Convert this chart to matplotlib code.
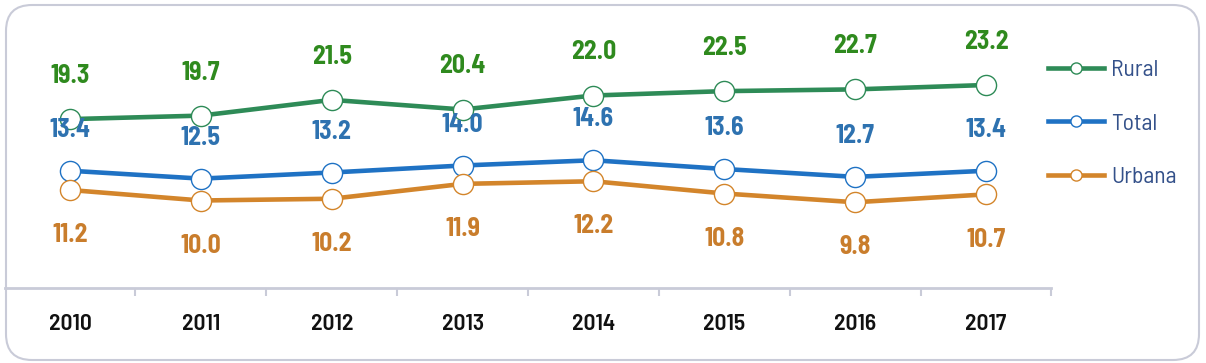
import matplotlib.pyplot as plt
from matplotlib.lines import Line2D
from matplotlib.patches import FancyBboxPatch
from matplotlib.transforms import IdentityTransform


years = ["2010", "2011", "2012", "2013", "2014", "2015", "2016", "2017"]
rural = [19.3, 19.7, 21.5, 20.4, 22.0, 22.5, 22.7, 23.2]
total = [13.4, 12.5, 13.2, 14.0, 14.6, 13.6, 12.7, 13.4]
urbana = [11.2, 10.0, 10.2, 11.9, 12.2, 10.8, 9.8, 10.7]

GREEN = "#2e8b57"
BLUE = "#1f72c4"
ORANGE = "#d3852b"
GREEN_TXT = "#2f8a1e"
BLUE_TXT = "#2e72b0"
ORANGE_TXT = "#c97d2c"
FRAME = "#c9cbd8"
FONT = ["Barlow Semi Condensed", "Barlow Condensed", "Carlito"]

W, H = 1206, 363
fig = plt.figure(figsize=(W / 100, H / 100), dpi=100)

# rounded outer frame (pixel coords)
frame = FancyBboxPatch((6, 3), W - 13, H - 8,
                       boxstyle="round,pad=0,rounding_size=26",
                       transform=IdentityTransform(), fill=False,
                       edgecolor=FRAME, linewidth=1.5)
fig.add_artist(frame)

ax = fig.add_axes([4.6 / W, 75 / H, 1046.8 / W, 262.5 / H])
ax.set_facecolor("none")
x = list(range(len(years)))

series = [
    ("Rural", rural, GREEN, GREEN_TXT, 31),
    ("Total", total, BLUE, BLUE_TXT, 29.5),
    ("Urbana", urbana, ORANGE, ORANGE_TXT, -32.5),
]

handles = []
for name, vals, col, tcol, off in series:
    ax.plot(x, vals, color=col, linewidth=3.3, marker="o", markersize=14.5,
            markerfacecolor="white", markeredgecolor=col, markeredgewidth=1)
    for xi, v in zip(x, vals):
        ax.annotate(f"{v:.1f}", (xi, v), xytext=(0, off),
                    textcoords="offset points", ha="center", va="center",
                    fontsize=18.5, fontweight="bold", color=tcol, family=FONT)
    handles.append(Line2D([], [], color=col, linewidth=3.3, marker="o",
                          markersize=8, markerfacecolor="white",
                          markeredgecolor=col, markeredgewidth=1, label=name))

ax.set_xlim(-0.5, len(years) - 0.5)
ax.set_ylim(0, 30)
ax.set_yticks([])
for s in ["top", "left", "right"]:
    ax.spines[s].set_visible(False)
ax.spines["bottom"].set_color(FRAME)
ax.spines["bottom"].set_linewidth(2)

ax.set_xticks(x)
ax.set_xticklabels(years, family=FONT, fontsize=17, fontweight=600,
                   color="#111111")
ax.tick_params(axis="x", which="major", length=0, pad=19)
ax.set_xticks([i + 0.5 for i in x], minor=True)
ax.tick_params(axis="x", which="minor", length=6, width=1.5, color=FRAME)

fig.legend(handles=handles, loc="center left",
           bbox_to_anchor=(1027 / W, 1 - 124 / H), frameon=False,
           prop={"family": FONT, "size": 17}, labelcolor="#34518a",
           handlelength=2.35, handletextpad=0.3, labelspacing=1.35)

fig.savefig("out.png", dpi=100)
